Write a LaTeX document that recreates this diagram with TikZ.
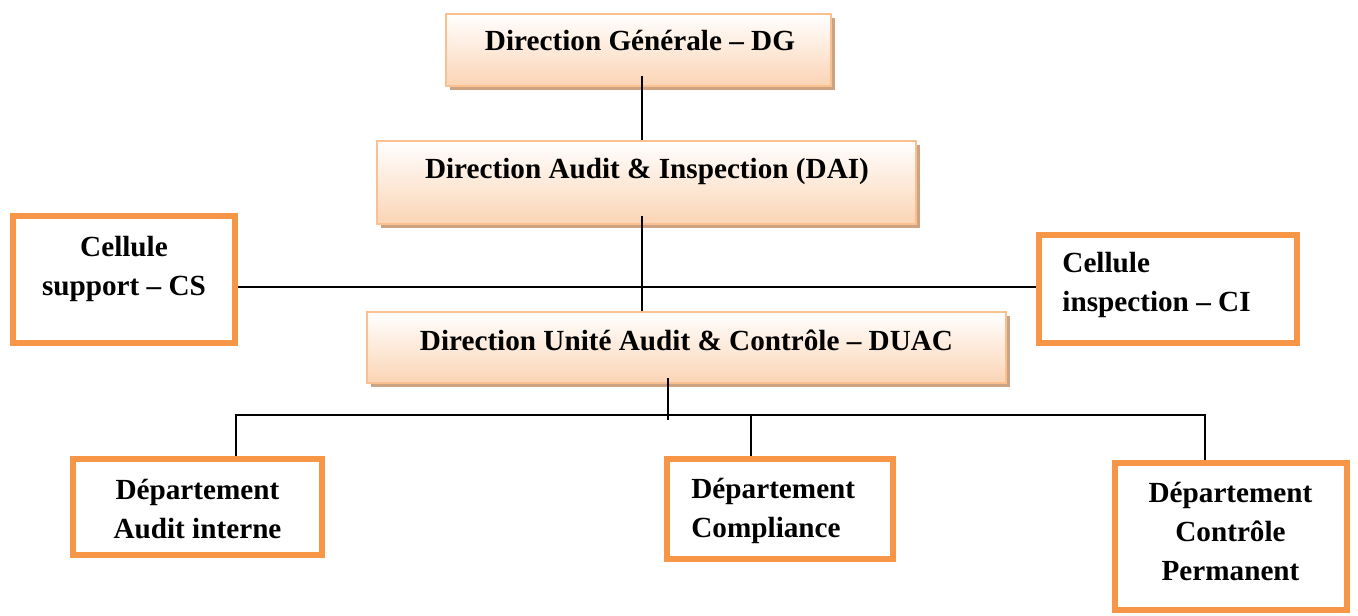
\documentclass[tikz,border=0pt]{standalone}
\usepackage{fontspec}
\setmainfont{Liberation Serif}
\usetikzlibrary{shadows,calc}

\definecolor{peach}{HTML}{FBD4B4}
\definecolor{peachline}{HTML}{FAC08F}
\definecolor{peachshadow}{RGB}{205,163,130}
\definecolor{accent}{HTML}{F79646}

\tikzset{
  shadedbox/.style={draw=peachline, line width=1pt, top color=white,
    bottom color=peach, inner sep=0pt,
    drop shadow={shadow xshift=2.2pt, shadow yshift=-2.2pt,
      fill=peachshadow, opacity=1}},
  orangebox/.style={draw=accent, line width=3pt, fill=white, inner sep=0pt},
  label text/.style={font=\bfseries\fontsize{14.6}{19.5}\selectfont,
    inner sep=0pt, anchor=base},
  conn/.style={draw=black, line width=0.8pt}
}

\begin{document}
\begin{tikzpicture}[x=0.5pt, y=-0.5pt]
\useasboundingbox (0,0) rectangle (1358,615);

% management boxes
\node[shadedbox, minimum width=192.5pt, minimum height=36pt]
  (dg) at (638.5,50) {};
\node[shadedbox, minimum width=269.5pt, minimum height=41.5pt]
  (dai) at (646.5,182.5) {};
\node[shadedbox, minimum width=319.5pt, minimum height=35.5pt]
  (duac) at (686.5,347.5) {};

\node[label text] (tdg) at (640,51) {Direction Générale – DG};
\node[label text] (tdai) at (647,178) {Direction Audit \& Inspection (DAI)};
\node[label text] (tduac) at (686.5,350) {Direction Unité Audit \& Contrôle – DUAC};

% x positions of the connector lines
\coordinate (spineA) at (642,0);
\coordinate (spineB) at (668,0);
\coordinate (cellrow) at (0,287);
\coordinate (bus) at (0,415);
\coordinate (dropA) at (236,0);
\coordinate (dropB) at (751,0);
\coordinate (dropC) at (1205,0);

% connectors
\draw[conn] ([yshift=5.5pt]dg.south -| spineA) -- (dai.north -| spineA);
\draw[conn] ([yshift=4.5pt]dai.south -| spineA) -- (duac.north -| spineA);
\draw[conn] ([yshift=3pt]duac.south -| spineB) -- ([yshift=-2.5pt]bus -| spineB);

% side cells and departments
\node[orangebox, minimum width=111pt, minimum height=63.5pt]
  (cs) at (124,279.5) {};
\node[orangebox, minimum width=129pt, minimum height=54pt]
  (ci) at (1168,289) {};
\node[orangebox, minimum width=124.5pt, minimum height=48pt]
  (d1) at (197.5,507) {};
\node[orangebox, minimum width=113pt, minimum height=50pt]
  (d2) at (780,509) {};
\node[orangebox, minimum width=116pt, minimum height=73.5pt]
  (d3) at (1231,536.5) {};

\draw[conn] (cs.east |- cellrow) -- (ci.west |- cellrow);
\draw[conn] (d1.north -| dropA) -- (dropA |- bus) -- (dropC |- bus)
  -- (d3.north -| dropC);
\draw[conn] (dropB |- bus) -- (d2.north -| dropB);

% multi-line labels are anchored on the baseline of their last line
\node[label text, align=center] (tcs) at (124,295) {Cellule\\support – CS};
\node[label text, align=left, anchor=base west] (tci) at (1062,311)
  {Cellule\\inspection – CI};
\node[label text, align=center] (td1) at (197.5,538)
  {Département\\Audit interne};
\node[label text, align=left, anchor=base west] (td2) at (691,537)
  {Département\\Compliance};
\node[label text, align=center] (td3) at (1230.5,580)
  {Département\\Contrôle\\Permanent};
\end{tikzpicture}
\end{document}
